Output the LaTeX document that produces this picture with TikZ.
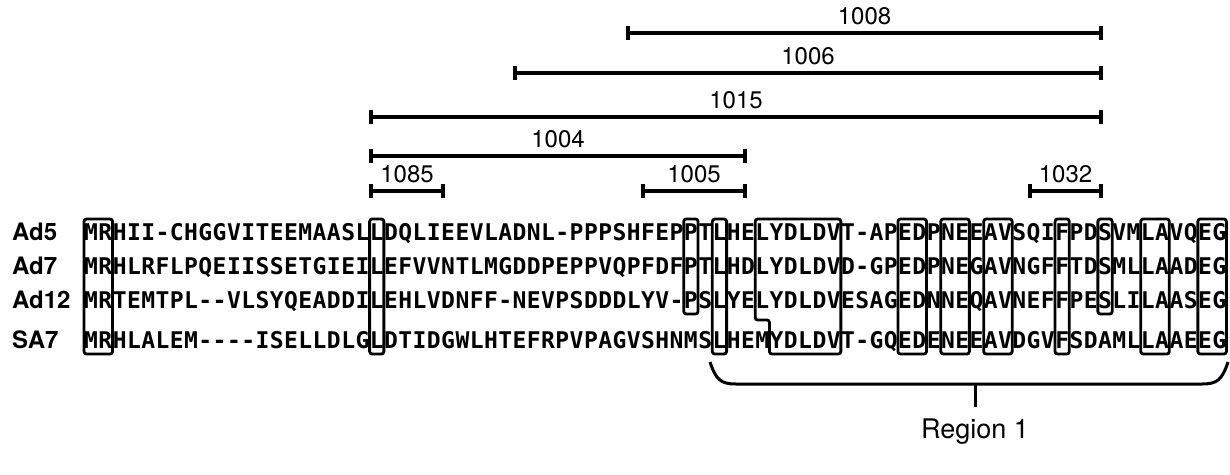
\documentclass[tikz,border=0pt]{standalone}
\usepackage{fontspec}
\setmainfont{TeX Gyre Heros}
\newfontfamily\seqfont{DejaVu Sans Mono}
\newcounter{seqcol}
\newcommand\seqrow[3]{\setcounter{seqcol}{0}\def\seqname{#1}\def\seqy{#2}\seqloop#3\relax}
\def\seqloop#1{\ifx\relax#1\else\stepcounter{seqcol}\node[res] (\seqname-\arabic{seqcol}) at ({84+(\arabic{seqcol}-0.5)*14.28},\seqy+8.5) {#1};\expandafter\seqloop\fi}
\newcommand\colbox[4]{\draw[hbox] ({84+(#1-1)*14.28},#3) rectangle ({84+#2*14.28},#4);}
\newcommand\clonebar[5]{%
  \coordinate (#5l) at (#1,#3); \coordinate (#5r) at (#2,#3);
  \draw[barline] ([yshift=-7pt]#5l) -- ([yshift=7pt]#5l) (#5l) -- (#5r) ([yshift=-7pt]#5r) -- ([yshift=7pt]#5r);
  \node[lab] (#5t) at ({(#1+#2)/2},#3-17) {#4};}
\tikzset{
  res/.style={font=\seqfont\bfseries\fontsize{23}{23}\selectfont, inner sep=0pt, anchor=base},
  rowlab/.style={font=\bfseries\fontsize{24}{24}\selectfont, inner sep=0pt, anchor=base west},
  lab/.style={font=\fontsize{24}{24}\selectfont, inner sep=0pt},
  hbox/.style={line width=2.8pt, rounded corners=2.5pt},
  barline/.style={line width=3.5pt},
  brk/.style={line width=3pt},
  region/.style={font=\fontsize{27}{27}\selectfont, inner sep=0pt}
}
\begin{document}
\begin{tikzpicture}[x=1pt,y=-1pt]
\useasboundingbox (0,0) rectangle (1230,474);
% bars
\clonebar{628}{1101}{33}{1008}{b1008}
\clonebar{515}{1101}{73}{1006}{b1006}
\clonebar{371}{1101}{117}{1015}{b1015}
\clonebar{371}{745}{156}{1004}{b1004}
\clonebar{371}{443}{191}{1085}{b1085}
\clonebar{643}{745}{191}{1005}{b1005}
\clonebar{1030}{1101}{191}{1032}{b1032}
% row labels
\node[rowlab] (lAd5) at (12,240.5) {Ad5};
\node[rowlab] (lAd7) at (12,274.5) {Ad7};
\node[rowlab] (lAd12) at (12,308.5) {Ad12};
\node[rowlab] (lSA7) at (12,348.5) {SA7};
% sequences
\seqrow{ad5}{232}{MRHII-CHGGVITEEMAASLLDQLIEEVLADNL-PPPSHFEPPTLHELYDLDVT-APEDPNEEAVSQIFPDSVMLAVQEG}
\seqrow{ad7}{266}{MRHLRFLPQEIISSETGIEILEFVVNTLMGDDPEPPVQPFDFPTLHDLYDLDVD-GPEDPNEGAVNGFFTDSMLLAADEG}
\seqrow{ad12}{300}{MRTEMTPL--VLSYQEADDILEHLVDNFF-NEVPSDDDLYV-PSLYELYDLDVESAGEDNNEQAVNEFFPESLILAASEG}
\seqrow{sa7}{340}{MRHLALEM----ISELLDLGLDTIDGWLHTEFRPVPAGVSHNMSLHEMYDLDVT-GQEDENEEAVDGVFSDAMLLAAEEG}
% boxes
\colbox{1}{2}{219}{354}
\colbox{21}{21}{219}{354}
\colbox{43}{43}{219}{314}
\colbox{45}{45}{219}{354}
\draw[hbox] ({84+48*14.28},354) -- ({84+48*14.28},320) -- ({84+47*14.28},320) -- ({84+47*14.28},219) -- ({84+53*14.28},219) -- ({84+53*14.28},354) -- cycle;
\colbox{58}{59}{219}{354}
\colbox{61}{62}{219}{354}
\colbox{64}{65}{219}{354}
\colbox{69}{69}{219}{354}
\colbox{72}{72}{219}{314}
\colbox{75}{76}{219}{354}
\colbox{79}{80}{219}{354}
% bracket
\coordinate (brL) at (710,362);
\coordinate (brR) at (1228,362);
\coordinate (brM) at (975,384);
\coordinate (brT) at (975,407);
\draw[brk] (brL) .. controls (716,380) and (721,384) .. (736,384) -- (1202,384) .. controls (1217,384) and (1222,380) .. (brR);
\draw[brk] (brM) -- (brT);
\node[region] (reg) at (975,432) {Region 1};
\end{tikzpicture}
\end{document}
